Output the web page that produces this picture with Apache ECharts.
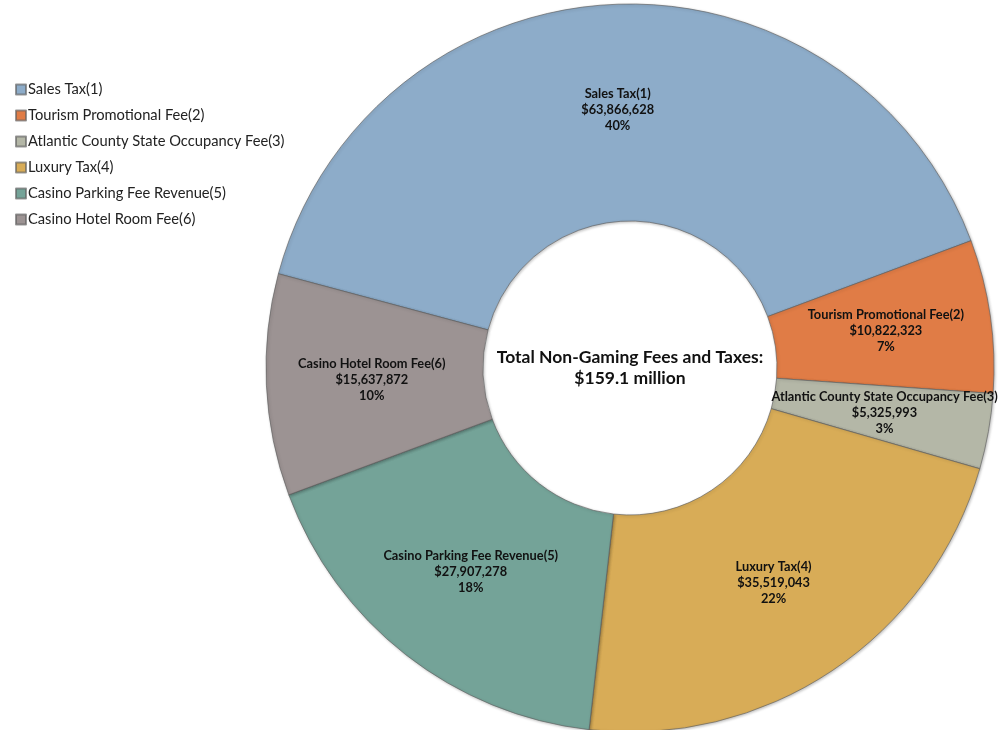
<!DOCTYPE html>
<html>
<head>
<meta charset="utf-8">
<script src="https://cdn.jsdelivr.net/npm/echarts@6/dist/echarts.min.js"></script>
<style>
html,body{margin:0;padding:0;background:#fff;}
#chart{width:1003px;height:730px;}
</style>
</head>
<body>
<div id="chart"></div>
<script>
const categories = [
  'Sales Tax(1)',
  'Tourism Promotional Fee(2)',
  'Atlantic County State Occupancy Fee(3)',
  'Luxury Tax(4)',
  'Casino Parking Fee Revenue(5)',
  'Casino Hotel Room Fee(6)'
];
const values = [63866628, 10822323, 5325993, 35519043, 27907278, 15637872];
const colors = ['#8dacc9', '#e07c46', '#b4b7a7', '#d8ac57', '#74a398', '#9c9393'];
const centerLines = ['Total Non-Gaming Fees and Taxes:', '$159.1 million'];

const chart = echarts.init(document.getElementById('chart'), null, {renderer: 'canvas'});
const fmt = v => '$' + v.toLocaleString('en-US');

chart.setOption({
  animation: false,
  legend: {
    orient: 'vertical',
    left: 10,
    top: 77,
    itemWidth: 10,
    itemHeight: 10,
    itemGap: 11,
    icon: 'rect',
    textStyle: {fontFamily: 'Lato', fontSize: 14.7, color: '#222', padding: [0, 0, 0, -3]},
    data: categories
  },
  graphic: [{
    type: 'text',
    left: 630 - 160,
    top: 347,
    style: {
      text: centerLines.join('\n'),
      width: 320,
      align: 'center',
      font: 'bold 17.5px Lato',
      lineHeight: 21,
      fill: '#111',
      textAlign: 'center',
      x: 160
    }
  }],
  series: [{
    type: 'pie',
    center: [630, 368],
    radius: [147, 364],
    startAngle: 165,
    clockwise: true,
    percentPrecision: 0,
    avoidLabelOverlap: false,
    emphasis: {disabled: true},
    itemStyle: {
      borderColor: 'rgba(95,95,95,0.65)',
      borderWidth: 1,
      shadowColor: 'rgba(0,0,0,0.25)',
      shadowBlur: 3,
      shadowOffsetX: 1,
      shadowOffsetY: 1
    },
    label: {
      show: true,
      position: 'inside',
      formatter: p => p.name + '\n' + fmt(p.value) + '\n' + p.percent + '%',
      fontFamily: 'Lato',
      fontWeight: 'bold',
      fontSize: 12.8,
      lineHeight: 16,
      color: '#111',
      align: 'center'
    },
    labelLine: {show: false},
    data: categories.map((c, i) => ({name: c, value: values[i], itemStyle: {color: colors[i]}}))
  }]
});
</script>
</body>
</html>
